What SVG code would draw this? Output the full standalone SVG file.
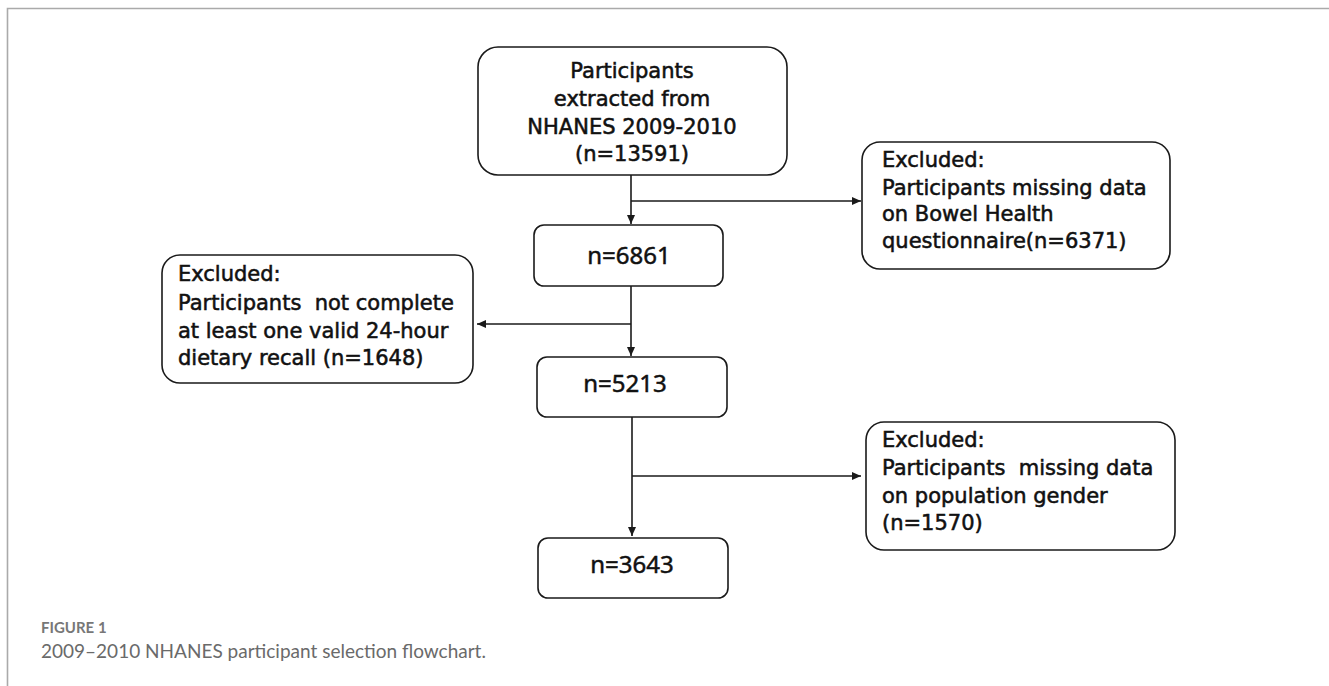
<svg xmlns="http://www.w3.org/2000/svg" width="1329" height="686" viewBox="0 0 1329 686">
<defs>
<style>
.box{fill:#fff;stroke:#1a1a1a;stroke-width:1.6}
.t{font-family:"DejaVu Sans",sans-serif;font-size:21px;fill:#111;stroke:#111;stroke-width:0.55}
.n{font-family:"Noto Sans","DejaVu Sans",sans-serif;font-size:24px;fill:#111;stroke:#111;stroke-width:0.5;text-anchor:middle}
.c{text-anchor:middle}
.con{fill:none;stroke:#1a1a1a;stroke-width:1.6}
.frame{fill:none;stroke:#aaaaaa;stroke-width:1.6}
.cap1{font-family:Lato,"Open Sans",sans-serif;font-size:15px;font-weight:bold;fill:#777}
.cap2{font-family:Lato,"Open Sans",sans-serif;font-size:19px;fill:#6a6a6a}
</style>
<marker id="ah" markerUnits="userSpaceOnUse" markerWidth="10" markerHeight="9" refX="9" refY="4" orient="auto">
<path d="M0,0 L9,4 L0,8 z" fill="#1a1a1a"/>
</marker>
</defs>
<rect width="1329" height="686" fill="#fff"/>
<path class="frame" d="M7.5,686 V8.5 H1329"/>

<g id="connectors">
<line class="con" x1="631" y1="175" x2="631" y2="224" marker-end="url(#ah)"/>
<line class="con" x1="631" y1="201" x2="861" y2="201" marker-end="url(#ah)"/>
<line class="con" x1="631" y1="286" x2="631" y2="356" marker-end="url(#ah)"/>
<line class="con" x1="631" y1="324" x2="477" y2="324" marker-end="url(#ah)"/>
<line class="con" x1="632" y1="417" x2="632" y2="536" marker-end="url(#ah)"/>
<line class="con" x1="632" y1="476" x2="861" y2="476" marker-end="url(#ah)"/>
</g>

<g id="node-start">
<rect class="box" x="478" y="47" width="309" height="128" rx="20"/>
<text class="t c" x="632" y="78">Participants</text>
<text class="t c" x="632" y="106">extracted from</text>
<text class="t c" x="632" y="134">NHANES 2009-2010</text>
<text class="t c" x="632" y="161">(n=13591)</text>
</g>

<g id="node-excl1">
<rect class="box" x="862" y="142" width="308" height="127" rx="18"/>
<text class="t" x="882" y="167">Excluded:</text>
<text class="t" x="882" y="195">Participants missing data</text>
<text class="t" x="882" y="221">on Bowel Health</text>
<text class="t" x="882" y="248">questionnaire(n=6371)</text>
</g>

<g id="node-6861">
<rect class="box" x="534" y="225" width="189" height="61" rx="10"/>
<text class="n" x="629" y="264">n=6861</text>
</g>

<g id="node-excl2">
<rect class="box" x="162" y="255" width="311" height="128" rx="18"/>
<text class="t" x="178" y="281" xml:space="preserve">Excluded:</text>
<text class="t" x="178" y="310" xml:space="preserve">Participants  not complete</text>
<text class="t" x="178" y="338">at least one valid 24-hour</text>
<text class="t" x="178" y="365">dietary recall (n=1648)</text>
</g>

<g id="node-5213">
<rect class="box" x="537" y="357" width="190" height="60" rx="10"/>
<text class="n" x="625" y="392">n=5213</text>
</g>

<g id="node-excl3">
<rect class="box" x="866" y="422" width="309" height="128" rx="18"/>
<text class="t" x="882" y="447">Excluded:</text>
<text class="t" x="882" y="475" xml:space="preserve">Participants  missing data</text>
<text class="t" x="882" y="503">on population gender</text>
<text class="t" x="882" y="530">(n=1570)</text>
</g>

<g id="node-3643">
<rect class="box" x="538" y="538" width="190" height="60" rx="10"/>
<text class="n" x="632" y="573">n=3643</text>
</g>

<g id="caption">
<text class="cap1" x="41" y="633">FIGURE 1</text>
<text class="cap2" x="41" y="658">2009–2010 NHANES participant selection flowchart.</text>
</g>
</svg>
